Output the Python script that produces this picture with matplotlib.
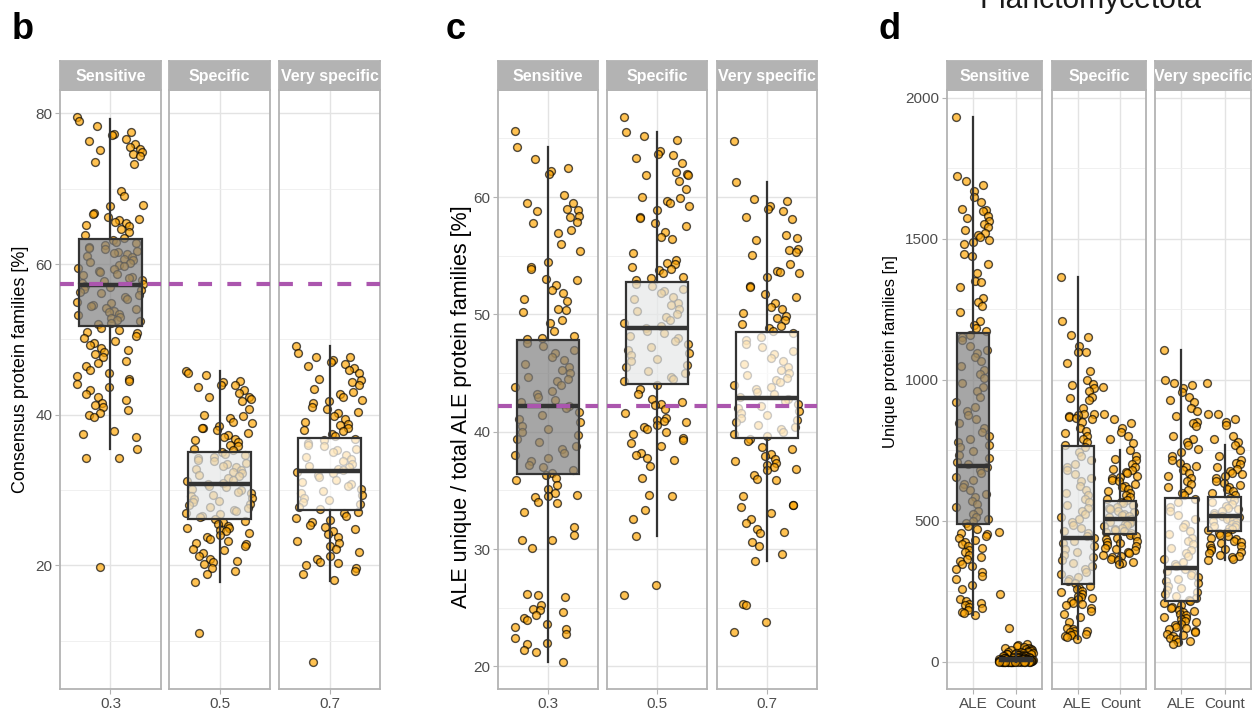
import numpy as np
import matplotlib
matplotlib.use("Agg")
import matplotlib.pyplot as plt

plt.rcParams['font.family'] = ['Liberation Sans', 'DejaVu Sans']
plt.rcParams['lines.scale_dashes'] = False

# ---------------- data ----------------
facets = ["Sensitive", "Specific", "Very specific"]

# panel b: consensus protein families [%]
b_labels = ["0.3", "0.5", "0.7"]
b_sensitive = [79.5, 79.0, 78.3, 77.6, 77.3, 77.1, 76.6, 76.4, 75.9, 75.6, 75.3, 75.1, 74.9, 74.6,
               74.3, 73.6, 73.3, 69.7, 69.1, 67.9, 67.7, 66.8, 66.6, 66.3, 66.0, 65.8, 65.6, 65.4,
               65.2, 65.0, 64.6, 64.3, 63.8, 63.5,
               63.2, 63.0, 62.8, 62.5, 62.3, 62.1, 62.0, 61.8, 61.6, 61.5, 61.3, 61.1, 60.9, 60.7,
               60.5, 60.3, 60.1, 59.9, 59.7, 59.5, 59.3, 59.1, 58.9, 58.7, 58.5, 58.3, 58.1, 57.9,
               57.7, 57.5, 57.3, 57.1, 56.9, 56.7, 56.5, 56.3, 56.1, 55.9, 55.6, 55.3, 55.0, 54.8,
               54.6, 54.4, 54.2, 54.0, 53.8, 53.6, 53.4, 53.2, 53.0, 52.8, 52.6, 52.4, 52.2, 52.0,
               51.5, 51.3, 51.0, 50.8, 50.5, 50.2, 49.8, 49.5, 49.2, 48.9, 48.6, 48.3, 48.0, 47.6,
               47.2, 46.9, 46.5, 46.0, 45.6, 45.2, 44.8, 44.5, 44.1, 43.7, 43.3, 42.8, 42.4, 42.0,
               41.6, 41.3, 41.0, 40.6, 40.2, 40.0, 39.7, 37.8, 37.4, 37.1, 35.4, 34.3, 34.3, 19.8]
b_specific = [45.8, 45.6, 45.3, 44.5, 44.3, 44.0, 43.9, 43.7, 43.3, 42.9, 42.4, 42.3, 42.1, 41.8,
              40.8, 40.0, 39.8, 39.5, 39.0, 38.9, 38.5, 38.3, 38.2, 38.0, 37.6, 37.3, 37.0, 36.8,
              36.6, 36.4, 36.0, 35.8, 35.5, 35.3,
              35.0, 34.8, 34.6, 34.4, 34.2, 34.0, 33.8, 33.6, 33.4, 33.2, 33.0, 32.8, 32.6, 32.4,
              32.2, 32.0, 31.8, 31.6, 31.4, 31.2, 31.0, 30.8, 30.6, 30.4, 30.2, 30.0, 29.8, 29.6,
              29.4, 29.2, 29.0, 28.8, 28.6, 28.4, 28.2, 28.0, 27.8, 27.6, 27.4, 27.2, 27.0, 26.8,
              26.6, 26.4, 26.2,
              25.9, 25.7, 25.5, 25.2, 25.0, 24.9, 24.7, 24.5, 24.3, 24.0, 23.8, 23.5, 23.3, 23.0,
              22.8, 22.6, 22.2, 22.0, 21.7, 21.3, 20.8, 20.6, 20.4, 20.2, 19.6, 19.2, 18.8, 17.8,
              11.0]
b_very = [49.1, 48.2, 47.7, 47.6, 47.3, 47.0, 46.8, 46.5, 46.2, 45.9, 45.5, 44.8, 44.6, 44.3,
          44.0, 43.4, 43.0, 42.7, 42.3, 42.0, 41.8, 41.5, 41.0, 40.7, 40.4, 40.2, 39.8, 39.4,
          39.1, 38.8, 38.6, 38.3, 38.0, 37.8, 37.5, 37.2,
          36.8, 36.6, 36.3, 36.0, 35.8, 35.5, 35.3, 35.0, 34.7, 34.4, 34.1, 33.8, 33.5, 33.2,
          33.0, 32.8, 32.6, 32.4, 32.2, 32.0, 31.7, 31.4, 31.1, 30.8, 30.5, 30.2, 29.9, 29.6,
          29.3, 29.0, 28.7, 28.4, 28.1, 27.8, 27.5,
          27.1, 26.9, 26.6, 26.3, 26.0, 25.7, 25.4, 25.1, 24.8, 24.5, 24.2, 23.8, 23.3, 23.0,
          22.6, 22.2, 21.8, 21.3, 20.9, 20.5, 20.3, 20.0, 19.7, 19.3, 18.9, 18.0, 7.2]
b_q1 = [51.8, 26.1, 27.3]
b_med = [57.2, 30.8, 32.5]
b_q3 = [63.3, 35.1, 36.9]
b_lo = [35.4, 17.8, 17.9]
b_hi = [79.3, 45.8, 49.1]
b_ref = 57.3

# panel c: ALE unique / total ALE protein families [%]
c_labels = ["0.3", "0.5", "0.7"]
c_sensitive = [65.6, 64.3, 63.2, 62.5, 62.2, 62.0, 60.2, 59.5, 59.5, 59.0, 58.9, 58.8, 58.4, 58.3,
               57.9, 57.8, 57.2, 56.9, 56.0, 55.4, 54.5, 54.0, 53.9, 53.0, 52.9, 52.5, 52.1, 51.8,
               51.3, 51.1, 50.5, 50.4, 50.2, 49.5, 49.3, 48.6, 48.2, 48.0, 47.9,
               47.6, 47.3, 47.0, 46.7, 46.4, 46.1, 45.8, 45.5, 45.3, 45.0, 44.7, 44.5, 44.3, 44.0,
               43.8, 43.5, 43.2, 43.0, 42.7, 42.5, 42.2, 42.0, 41.7, 41.4, 41.1, 40.8, 40.5, 40.2,
               40.0, 39.7, 39.4, 39.1, 38.8, 38.5, 38.2, 38.0, 37.8, 37.5, 37.2, 37.0, 36.7, 36.5,
               36.3, 36.1, 35.9, 35.5, 35.1, 34.8, 34.6, 34.5, 34.4, 34.0, 33.9, 33.2, 31.9, 31.2,
               30.8, 30.8, 30.1, 26.2, 26.1, 25.9, 25.2, 24.9, 24.8, 24.6, 24.4, 24.1, 24.0, 23.6,
               23.4, 23.2, 22.8, 22.4, 22.0, 21.9, 21.4, 21.2, 20.4]
c_specific = [66.8, 65.5, 65.2, 64.9, 63.9, 63.7, 63.6, 63.3, 62.9, 62.1, 62.0, 61.9, 61.9, 61.4,
              60.7, 60.0, 59.9, 59.7, 59.5, 59.2, 58.9, 58.3, 58.2, 57.8, 57.5, 57.0, 56.6, 56.4,
              55.2, 54.6, 54.4, 54.3, 54.0, 53.9, 53.8, 53.5, 53.2, 53.1, 52.9,
              52.6, 52.4, 52.2, 52.0, 51.8, 51.5, 51.3, 51.0, 50.8, 50.5, 50.3, 50.0, 49.8, 49.5,
              49.3, 49.0, 48.8, 48.6, 48.4, 48.2, 48.0, 47.7, 47.5, 47.2, 47.0, 46.7, 46.5, 46.2,
              46.0, 45.7, 45.5, 45.2, 45.0, 44.7, 44.5, 44.3,
              44.0, 43.6, 43.2, 42.8, 42.5, 42.4, 42.3, 41.9, 41.6, 41.2, 41.0, 40.9, 40.8, 40.6,
              40.4, 40.2, 40.0, 39.8, 39.5, 39.3, 39.0, 38.8, 38.2, 38.0, 37.8, 37.6, 37.1, 36.1,
              34.6, 34.5, 33.3, 32.6, 31.1, 26.9, 26.1]
c_very = [64.8, 61.3, 59.8, 59.7, 59.2, 59.0, 58.8, 58.3, 58.1, 56.8, 56.5, 56.3, 55.6, 55.5,
          55.3, 55.1, 54.3, 53.7, 53.6, 53.5, 53.2, 52.4, 52.3, 51.7, 51.5, 51.0, 50.6, 50.5,
          50.1, 49.9, 49.7, 49.5, 49.2, 49.0, 48.8, 48.6,
          48.4, 48.1, 47.8, 47.5, 47.2, 46.9, 46.6, 46.3, 46.0, 45.8, 45.5, 45.3, 45.0, 44.8,
          44.6, 44.4, 44.2, 44.0, 43.8, 43.6, 43.4, 43.2, 43.0, 42.8, 42.6, 42.4, 42.2, 42.0,
          41.8, 41.6, 41.4, 41.2, 41.0, 40.8, 40.6, 40.4, 40.2, 40.0, 39.8, 39.6,
          39.4, 39.2, 38.7, 38.5, 38.1, 37.9, 37.7, 37.5, 37.3, 37.2, 37.0, 36.8, 36.7, 36.3,
          36.0, 35.9, 34.5, 33.8, 33.8, 33.6, 33.1, 32.6, 32.2, 31.7, 31.5, 31.4, 30.6, 30.3,
          29.6, 29.0, 25.3, 25.2, 23.8, 22.9]
c_q1 = [36.4, 44.1, 39.5]
c_med = [42.2, 48.8, 42.9]
c_q3 = [47.8, 52.8, 48.5]
c_lo = [20.4, 31.1, 29.0]
c_hi = [64.3, 65.5, 61.3]
c_ref = 42.2

# panel d: unique protein families [n]
d_labels = ["ALE", "Count"]
d_sens_ale = [1931, 1722, 1705, 1690, 1668, 1648, 1632, 1605, 1602, 1600, 1582, 1575, 1562, 1552,
              1540, 1530, 1522, 1515, 1508, 1495, 1488, 1480, 1445, 1440, 1410, 1380, 1352, 1348,
              1330, 1290, 1275, 1262, 1240, 1210, 1195, 1185, 1172,
              1160, 1150, 1140, 1120, 1105, 1095, 1080, 1065, 1050, 1035, 1020, 1005, 990, 975,
              960, 940, 920, 905, 890, 875, 860, 845, 830, 815, 800, 790, 780, 770, 760, 748,
              735, 722, 710, 700, 690, 680, 668, 655, 645, 632, 620, 608, 595, 583, 570, 560,
              548, 536, 525, 515, 505, 498, 492,
              480, 470, 458, 452, 446, 440, 432, 424, 418, 410, 402, 395, 388, 380, 372, 365,
              356, 348, 340, 330, 318, 305, 292, 272, 258, 222, 215, 210, 205, 200, 195, 190,
              185, 178, 172, 166]
d_sens_cnt = [460, 240, 120, 62, 58, 55, 52, 50, 48, 45, 44, 42, 40, 38, 37, 35, 34, 33, 32, 31,
              30, 29, 28, 27, 26, 25, 24, 23, 22, 21, 20, 20, 19, 18, 18, 17, 16, 16, 15, 15, 14,
              14, 13, 13, 12, 12, 11, 11, 10, 10, 10, 9, 9, 9, 8, 8, 8, 7, 7, 7, 6, 6, 6, 6, 5,
              5, 5, 5, 4, 4, 4, 4, 3, 3, 3, 3, 3, 2, 2, 2, 2, 2, 2, 1, 1, 1, 1, 1, 1, 1, 0, 0, 0,
              0, 0, 0, 0, 0, 0, 0, 0, 0, 0, 0, 0, 0, 0, 0, 0, 0]
d_spec_ale = [1366, 1210, 1160, 1150, 1120, 1100, 1100, 1060, 1030, 1000, 985, 982, 970, 960,
              940, 935, 930, 900, 880, 878, 875, 870, 868, 865, 860, 850, 830, 820, 810, 800,
              790, 780, 770,
              760, 745, 730, 715, 700, 690, 680, 665, 650, 640, 625, 610, 600, 590, 578, 565,
              555, 545, 535, 525, 515, 505, 495, 485, 475, 465, 455, 445, 438, 430, 420, 410,
              400, 390, 380, 370, 360, 350, 340, 330, 320, 310, 300, 292, 285, 280,
              270, 262, 258, 252, 248, 240, 235, 230, 225, 222, 215, 210, 205, 200, 190, 180,
              170, 160, 140, 120, 115, 110, 108, 105, 100, 98, 95, 92, 88, 80]
d_spec_cnt = [975, 880, 860, 845, 830, 815, 800, 790, 775,
              750, 730, 720, 715, 700, 690, 685, 680, 672, 668, 660, 655, 650, 645, 640, 632,
              625, 620, 612, 605, 598, 590, 585, 578, 574,
              568, 562, 556, 550, 545, 540, 535, 530, 525, 520, 516, 512, 508, 504, 500, 496,
              492, 488, 484, 480, 476, 472, 468, 464, 460, 456,
              450, 445, 440, 435, 430, 425, 420, 415, 410, 405, 400, 395, 390, 385, 380, 375,
              370, 365, 360, 355, 350, 345]
d_very_ale = [1106, 1000, 990, 980, 970, 955, 940, 930, 920, 900, 890, 870, 850, 845, 835, 800,
              790, 780, 770, 755, 745, 730, 715, 705, 695, 690, 680, 670, 660, 650, 640, 630,
              620, 610, 600, 590,
              578, 565, 550, 535, 520, 505, 490, 478, 465, 452, 440, 428, 416, 405, 395, 385,
              375, 365, 355, 345, 338, 330, 322, 315, 308, 300, 292, 285, 278, 270, 262, 255,
              248, 240, 232, 225, 220,
              214, 208, 202, 196, 190, 185, 180, 175, 170, 165, 160, 155, 150, 145, 140, 135,
              130, 125, 120, 115, 110, 105, 100, 95, 90, 85, 80, 75, 70, 62]
d_very_cnt = [990, 880, 880, 860, 850, 840, 800, 790, 780,
              767, 750, 730, 715, 705, 700, 690, 685, 678, 670, 665, 658, 650, 642, 635, 628,
              620, 612, 605, 598, 592,
              580, 572, 565, 558, 552, 546, 540, 534, 528, 522, 518, 514, 510, 506, 502, 498,
              494, 490, 486, 482, 478, 474, 470, 466,
              460, 455, 450, 445, 440, 435, 430, 425, 420, 415, 410, 405, 400, 395, 390, 385,
              380, 375, 370, 365, 361]
d_ale_q1 = [487, 275, 217]
d_ale_med = [695, 440, 331]
d_ale_q3 = [1166, 764, 581]
d_ale_lo = [166, 80, 62]
d_ale_hi = [1931, 1366, 1106]
d_cnt_q1 = [1, 452, 463]
d_cnt_med = [5, 508, 518]
d_cnt_q3 = [14, 570, 585]
d_cnt_lo = [0, 343, 361]
d_cnt_hi = [33, 750, 767]

# ---------------- style ----------------
W, H = 1254, 711
box_fills = [(0.5, 0.5, 0.5, 0.7), (0.90, 0.91, 0.91, 0.7), (1, 1, 1, 0.7)]
dark = "#333333"
border = "#b3b3b3"
ref_color = "#ab56ae"

fig = plt.figure(figsize=(W / 100, H / 100), dpi=100)


def px_axes(x0, x1, y0, y1):
    return fig.add_axes([x0 / W, 1 - y1 / H, (x1 - x0) / W, (y1 - y0) / H])


def jitter(n):
    # deterministic spread of points across the jitter band (+-0.4)
    i = np.arange(n)
    return ((i * i * 0.6180339887 + i * 0.4142) % 1.0 - 0.5) * 0.8


def expand(*groups):
    allv = np.concatenate([np.asarray(g, float) for g in groups])
    lo, hi = allv.min(), allv.max()
    pad = (hi - lo) * 0.05
    return lo - pad, hi + pad


def draw_facet(k, xspan, series, stats, labels, ylim, major, minor, ref=None):
    x0, x1 = xspan
    ax = px_axes(x0, x1, 90, 689)
    n = len(labels)
    pos = np.arange(1, n + 1)
    for j in range(n):
        vals = np.asarray(series[j], float)
        ax.scatter(pos[j] + jitter(len(vals)), vals, s=32, c="#FFA500",
                   edgecolors="black", linewidths=1.0, alpha=0.68, zorder=2)
    bstats = [dict(med=m, q1=a, q3=b, whislo=lo, whishi=hi, fliers=[])
              for (a, m, b, lo, hi) in stats]
    ax.bxp(bstats, positions=pos, widths=0.75, patch_artist=True, showcaps=False,
           showfliers=False,
           boxprops=dict(facecolor=box_fills[k], edgecolor=dark, linewidth=1.6),
           whiskerprops=dict(color=dark, linewidth=1.6),
           medianprops=dict(color=dark, linewidth=3.2, solid_capstyle="butt"),
           zorder=3)
    if ref is not None:
        ax.axhline(ref, color=ref_color, lw=3.0, dashes=(10, 11), zorder=4)
    ax.set_xlim(0.4, n + 0.6)
    ax.set_ylim(*ylim)
    ax.set_yticks(major)
    ax.set_yticks(minor, minor=True)
    ax.set_xticks(pos, labels)
    ax.grid(which="major", color="#e3e3e3", lw=1.0)
    ax.grid(which="minor", axis="y", color="#eeeeee", lw=0.6)
    ax.set_axisbelow(True)
    for sp in ax.spines.values():
        sp.set_color(border)
        sp.set_linewidth(1.3)
    ax.tick_params(axis="x", length=3.5, color=border, labelcolor="#4d4d4d",
                   labelsize=11, pad=2)
    ax.tick_params(axis="y", which="minor", length=0)
    if k == 0:
        ax.tick_params(axis="y", which="major", length=3.5, color=border,
                       labelcolor="#4d4d4d", labelsize=11, pad=2)
    else:
        ax.tick_params(axis="y", which="major", length=0, labelleft=False)

    st = px_axes(x0, x1, 61, 90)
    st.set_facecolor(border)
    st.set_xticks([])
    st.set_yticks([])
    for sp in st.spines.values():
        sp.set_color(border)
        sp.set_linewidth(1.3)
    st.text(0.5, 0.45, facets[k], transform=st.transAxes, ha="center", va="center",
            color="white", fontweight="bold", fontsize=11.5, clip_on=True)


# panel b
b_spans = [(60, 161), (169, 270), (279, 380)]
b_series = [b_sensitive, b_specific, b_very]
b_ylim = expand(*b_series)
for k in range(3):
    draw_facet(k, b_spans[k], [b_series[k]],
               [(b_q1[k], b_med[k], b_q3[k], b_lo[k], b_hi[k])],
               [b_labels[k]], b_ylim, [20, 40, 60, 80], [10, 30, 50, 70], ref=b_ref)

# panel c
c_spans = [(498, 598), (607, 707), (717, 817)]
c_series = [c_sensitive, c_specific, c_very]
c_ylim = expand(*c_series)
for k in range(3):
    draw_facet(k, c_spans[k], [c_series[k]],
               [(c_q1[k], c_med[k], c_q3[k], c_lo[k], c_hi[k])],
               [c_labels[k]], c_ylim, [20, 30, 40, 50, 60], [25, 35, 45, 55, 65], ref=c_ref)

# panel d
d_spans = [(947, 1042), (1052, 1146), (1155, 1251)]
d_series = [[d_sens_ale, d_sens_cnt], [d_spec_ale, d_spec_cnt], [d_very_ale, d_very_cnt]]
d_ylim = expand(*[g for pair in d_series for g in pair])
for k in range(3):
    draw_facet(k, d_spans[k], d_series[k],
               [(d_ale_q1[k], d_ale_med[k], d_ale_q3[k], d_ale_lo[k], d_ale_hi[k]),
                (d_cnt_q1[k], d_cnt_med[k], d_cnt_q3[k], d_cnt_lo[k], d_cnt_hi[k])],
               d_labels, d_ylim, [0, 500, 1000, 1500, 2000], [250, 750, 1250, 1750])

# axis titles
fig.text(21 / W, 1 - 369 / H, "Consensus protein families [%]", rotation=90,
         ha="center", va="center", fontsize=13, color="black")
fig.text(461 / W, 1 - 407 / H, "ALE unique / total ALE protein families [%]", rotation=90,
         ha="center", va="center", fontsize=15.5, color="black")
fig.text(891 / W, 1 - 352 / H, "Unique protein families [n]", rotation=90,
         ha="center", va="center", fontsize=12, color="black")

# panel letters and (cropped, as in the source figure) title
for x, letter in [(12, "b"), (446, "c"), (878, "d")]:
    fig.text(x / W, 1 - 39 / H, letter, fontsize=26, fontweight="bold", va="baseline")
fig.text(1091 / W, 1 - 8 / H, "Planctomycetota", fontsize=21.6, ha="center",
         va="baseline", color="#1a1a1a")

fig.savefig("out.png", dpi=100)
